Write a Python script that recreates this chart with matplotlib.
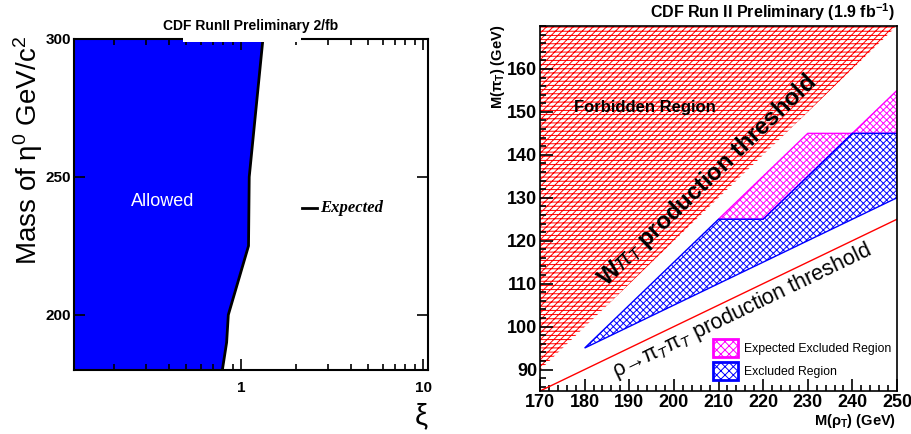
import matplotlib
matplotlib.use('Agg')
import matplotlib.pyplot as plt
from matplotlib.patches import Polygon, Patch, Rectangle
from matplotlib.ticker import FixedLocator, NullFormatter, MultipleLocator

plt.rcParams['font.family'] = ['Liberation Sans', 'DejaVu Sans']
plt.rcParams['mathtext.fontset'] = 'custom'
plt.rcParams['mathtext.rm'] = 'Liberation Sans'
plt.rcParams['mathtext.it'] = 'Liberation Sans:italic'
plt.rcParams['mathtext.bf'] = 'Liberation Sans:bold'
plt.rcParams['hatch.linewidth'] = 0.7

# Panel izquierdo: limite esperado en xi vs masa
masa = [180, 190, 200, 225, 250, 300]
xi_lim = [0.79, 0.834, 0.852, 1.10, 1.11, 1.32]
xi_min, xi_max = 0.121, 10.65

# Panel derecho: regiones en el plano M(rho_T), M(pi_T)
prohib_x = [170, 170, 250]
prohib_y = [90, 170, 170]
obs_x = [180, 210, 220, 240, 250, 250]
obs_y = [95, 125, 125, 145, 145, 130]
esp_x = [210, 230, 240, 250, 250, 240, 220]
esp_y = [125, 145, 145, 155, 145, 145, 125]
umbral_x = [170, 250]
umbral_y = [85, 125]

fig = plt.figure(figsize=(9.12, 4.34), dpi=100)

# ---------------- izquierda ----------------
ax1 = fig.add_axes([74/912, 64/434, 354/912, 331/434])
ax1.set_xscale('log')
ax1.set_xlim(xi_min, xi_max)
ax1.set_ylim(180, 300)
ax1.fill_betweenx(masa, xi_min, xi_lim, color='#0000ff', lw=0)
ax1.plot(xi_lim, masa, color='black', lw=2)

ax1.xaxis.set_major_locator(FixedLocator([1, 10]))
ax1.xaxis.set_minor_locator(FixedLocator([0.2, 0.3, 0.4, 0.5, 0.6, 0.7, 0.8, 0.9,
                                          2, 3, 4, 5, 6, 7, 8, 9]))
ax1.xaxis.set_minor_formatter(NullFormatter())
ax1.set_xticklabels(['1', '10'])
ax1.set_yticks([200, 250, 300])
ax1.tick_params(which='both', direction='in', top=True, right=True, width=1.2,
                labelsize=11, pad=2)
ax1.tick_params(which='major', length=8)
ax1.tick_params(which='minor', length=4)
ax1.tick_params(axis='x', pad=8)
for lab in ax1.get_xticklabels() + ax1.get_yticklabels():
    lab.set_fontweight('bold')
for s in ax1.spines.values():
    s.set_linewidth(1.5)

ax1.text(0.37, 241, 'Allowed', color='white', fontsize=13, ha='center', va='center')
ax1.plot([2.16, 2.62], [238.8, 238.8], color='black', lw=2)
ax1.text(2.72, 238.8, 'Expected', family='Liberation Serif', style='italic',
         weight='bold', fontsize=12, va='center')
ax1.text(0.5, 1.039, 'CDF RunII Preliminary 2/fb', transform=ax1.transAxes,
         ha='center', va='center', fontsize=10, weight='bold')
ax1.add_patch(Rectangle((0.308, 0.99), 0.333, 0.02, transform=ax1.transAxes,
                        facecolor='white', edgecolor='none', clip_on=False, zorder=5))
fig.text(28/912, 1 - 150/434, 'Mass of η$^0$ GeV/c$^2$', rotation=90,
         ha='center', va='center', fontsize=20)
fig.text(421/912, 1 - 416/434, 'ξ', ha='center', va='center', fontsize=21)

# ---------------- derecha ----------------
ax2 = fig.add_axes([540/912, 43/434, 357/912, 365/434])
ax2.set_xlim(170, 250)
ax2.set_ylim(85, 170)

ax2.add_patch(Polygon(list(zip(prohib_x, prohib_y)), closed=True, facecolor='none',
                      edgecolor='#ff0000', hatch='----/////', lw=0))
ax2.add_patch(Polygon(list(zip(esp_x, esp_y)), closed=True, facecolor='none',
                      edgecolor='#ff00ff', hatch='xxxxx', lw=1))
ax2.add_patch(Polygon(list(zip(obs_x, obs_y)), closed=True, facecolor='none',
                      edgecolor='#0000ff', hatch='xxxxx', lw=1))
ax2.plot(umbral_x, umbral_y, color='#ff0000', lw=1)

ax2.xaxis.set_major_locator(MultipleLocator(10))
ax2.xaxis.set_minor_locator(MultipleLocator(2))
ax2.yaxis.set_major_locator(FixedLocator([90, 100, 110, 120, 130, 140, 150, 160]))
ax2.yaxis.set_minor_locator(MultipleLocator(2))
ax2.tick_params(which='both', direction='in', width=1.2, labelsize=13, pad=2)
ax2.tick_params(which='major', length=9)
ax2.tick_params(which='minor', length=4)
for lab in ax2.get_xticklabels() + ax2.get_yticklabels():
    lab.set_fontweight('bold')
for s in ax2.spines.values():
    s.set_linewidth(1.2)

ax2.text(193.5, 151, 'Forbidden Region', fontsize=12, weight='bold',
         ha='center', va='center')
ax2.text(207.6, 134, r'W$\pi_T$ production threshold', fontsize=17, weight='bold',
         rotation=43.9, ha='center', va='center', rotation_mode='anchor')
ax2.text(215.3, 103.6, r'ρ→π$_T$π$_T$ production threshold', fontsize=15.5,
         rotation=25.7, ha='center', va='center', rotation_mode='anchor')

handles = [Patch(facecolor='white', edgecolor='#ff00ff', hatch='xxxx', lw=2),
           Patch(facecolor='white', edgecolor='#0000ff', hatch='xxxx', lw=2)]
ax2.legend(handles, ['Expected Excluded Region', 'Excluded Region'],
           loc='lower left', bbox_to_anchor=(0.455, 0.0), frameon=False,
           fontsize=8.8, handlelength=2.0, handleheight=1.9, labelspacing=0.4,
           handletextpad=0.5)

fig.text(895/912, 1 - 12/434, r'CDF Run II Preliminary (1.9 fb$^{\mathbf{-1}}$)',
         ha='right', va='center', fontsize=11.5, weight='bold')
fig.text(498/912, 1 - 25/434, r'M($\mathbf{\pi_T}$) (GeV)', rotation=90,
         ha='center', va='top', fontsize=10.5, weight='bold')
fig.text(896/912, 1 - 421/434, r'M($\mathbf{\rho_T}$) (GeV)', ha='right',
         va='center', fontsize=10.5, weight='bold')

fig.savefig('out.png', dpi=100)
